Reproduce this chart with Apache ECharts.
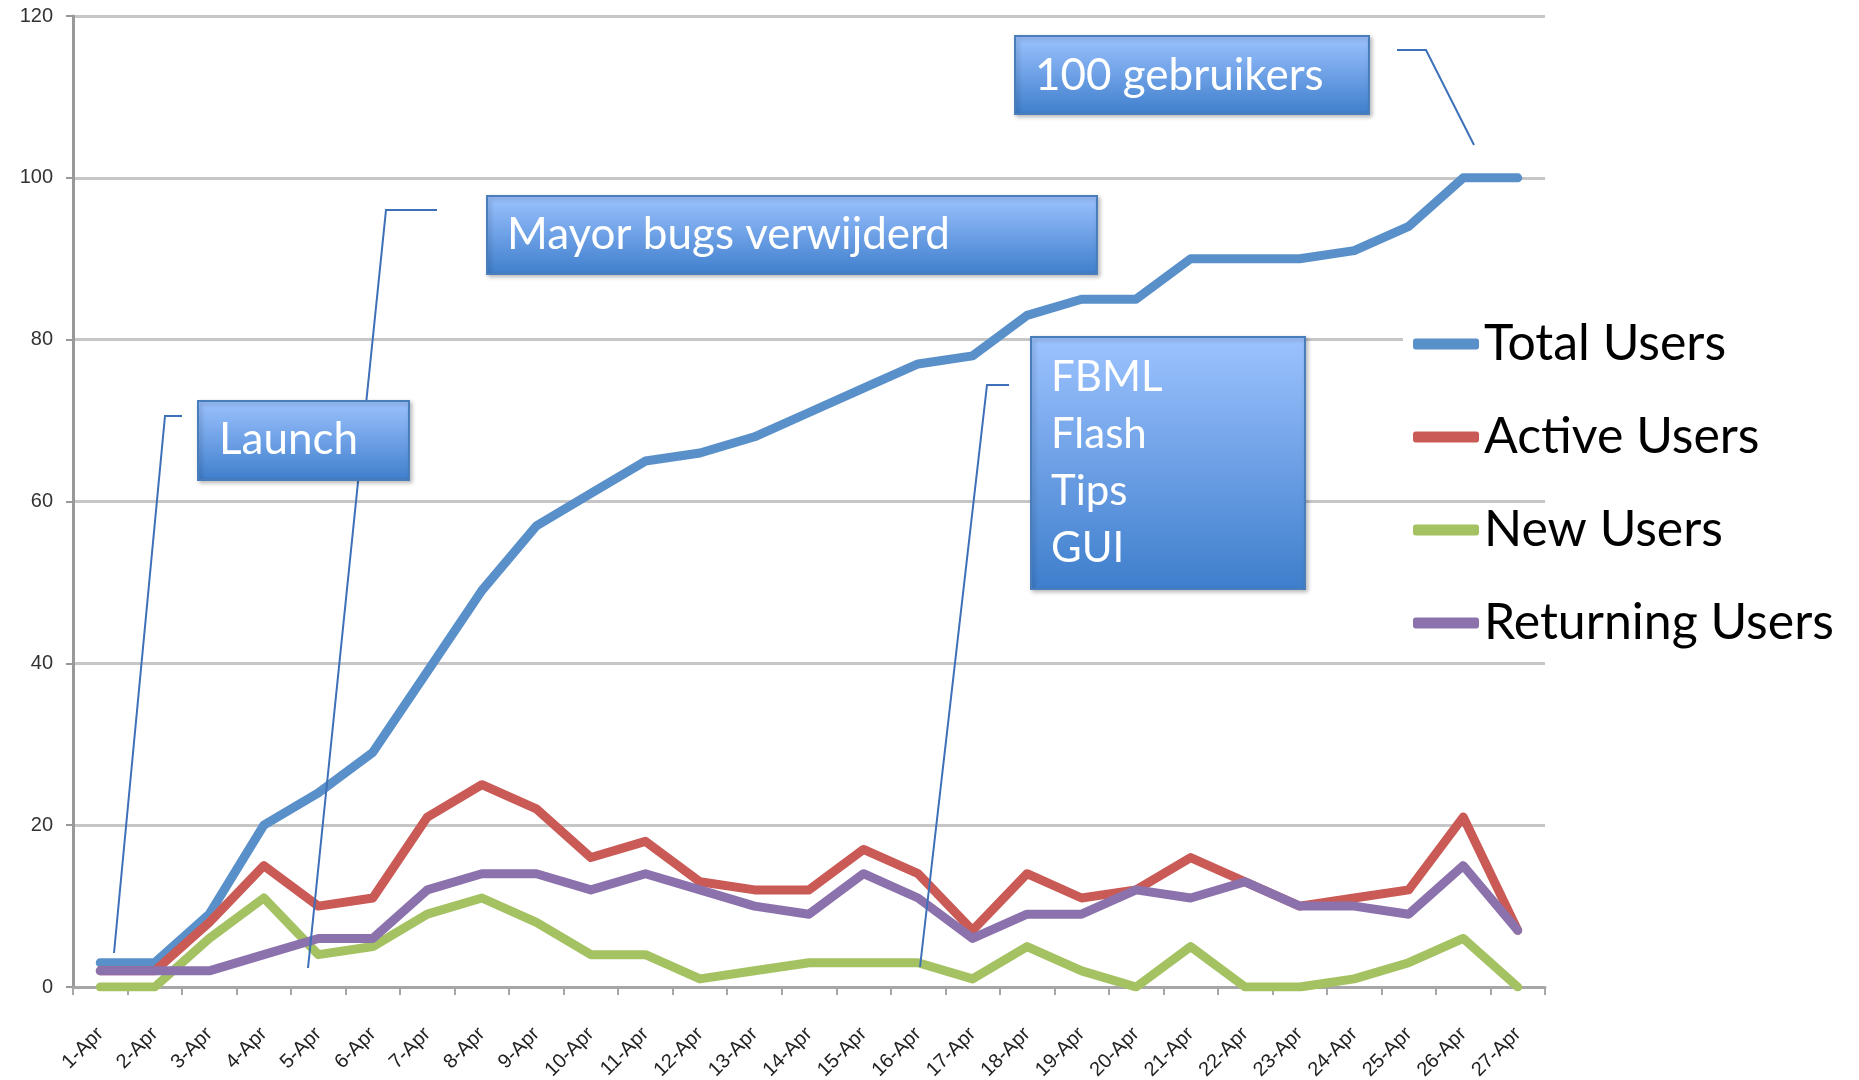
<!DOCTYPE html>
<html>
<head>
<meta charset="utf-8">
<script src="https://cdn.jsdelivr.net/npm/echarts@6/dist/echarts.min.js"></script>
<style>
  html, body { margin: 0; padding: 0; background: #fff; }
  #chart { width: 1859px; height: 1080px; }
</style>
</head>
<body>
<div id="chart"></div>
<script>
// category axis
const days = ['1-Apr','2-Apr','3-Apr','4-Apr','5-Apr','6-Apr','7-Apr','8-Apr','9-Apr','10-Apr',
  '11-Apr','12-Apr','13-Apr','14-Apr','15-Apr','16-Apr','17-Apr','18-Apr','19-Apr','20-Apr',
  '21-Apr','22-Apr','23-Apr','24-Apr','25-Apr','26-Apr','27-Apr'];

// series values
const totalUsers     = [3, 3, 9, 20, 24, 29, 39, 49, 57, 61, 65, 66, 68, 71, 74, 77, 78, 83, 85, 85, 90, 90, 90, 91, 94, 100, 100];
const activeUsers    = [2, 2, 8, 15, 10, 11, 21, 25, 22, 16, 18, 13, 12, 12, 17, 14, 7, 14, 11, 12, 16, 13, 10, 11, 12, 21, 7];
const newUsers       = [0, 0, 6, 11, 4, 5, 9, 11, 8, 4, 4, 1, 2, 3, 3, 3, 1, 5, 2, 0, 5, 0, 0, 1, 3, 6, 0];
const returningUsers = [2, 2, 2, 4, 6, 6, 12, 14, 14, 12, 14, 12, 10, 9, 14, 11, 6, 9, 9, 12, 11, 13, 10, 10, 9, 15, 7];

const seriesNames = ['Total Users', 'Active Users', 'New Users', 'Returning Users'];
const seriesColors = ['#5990C9', '#CA5A55', '#A5C262', '#8C72AD'];

// y axis
const yMin = 0, yMax = 120, yStep = 20;

// callout texts
const notes = ['Launch', 'Mayor bugs verwijderd', '100 gebruikers', ['FBML', 'Flash', 'Tips', 'GUI']];

const chart = echarts.init(document.getElementById('chart'));

const boxFill = () => new echarts.graphic.LinearGradient(0, 0, 0, 1, [
  { offset: 0, color: '#9DC3FF' },
  { offset: 1, color: '#3E7ECC' }
]);

function calloutBox(x, y, w, h, lines, tx, ty, step, size) {
  const children = [{
    type: 'rect', z: 20,
    shape: { x: x, y: y, width: w, height: h },
    style: {
      fill: boxFill(), stroke: '#4A7EBB', lineWidth: 2,
      shadowBlur: 4, shadowOffsetX: 2, shadowOffsetY: 2, shadowColor: 'rgba(0,0,0,0.25)'
    }
  }];
  [].concat(lines).forEach((t, i) => {
    children.push({
      type: 'text', z: 21,
      style: {
        text: t, x: tx, y: ty + i * step,
        fill: '#fff', font: size + 'px Lato',
        align: 'left', verticalAlign: 'middle'
      }
    });
  });
  return { type: 'group', z: 20, children: children };
}

function leader(points) {
  return {
    type: 'polyline', z: 15,
    shape: { points: points },
    style: { stroke: '#3D70B8', lineWidth: 2, fill: null }
  };
}

const option = {
  backgroundColor: '#fff',
  animation: false,
  grid: { left: 73, right: 314, top: 16, bottom: 93, containLabel: false, outerBoundsMode: 'none' },
  legend: {
    data: seriesNames,
    orient: 'vertical',
    left: 1413, top: 316,
    padding: 0,
    itemWidth: 66, itemHeight: 11, itemGap: 37,
    icon: 'roundRect',
    z: 30,
    textStyle: { fontFamily: 'Lato', fontSize: 50, color: '#000', lineHeight: 56 }
  },
  xAxis: {
    type: 'category',
    data: days,
    boundaryGap: true,
    axisLine: { lineStyle: { color: '#A6A6A6', width: 3 } },
    axisTick: { show: true, interval: 0, length: 8, lineStyle: { color: '#A6A6A6', width: 2 } },
    axisLabel: {
      interval: 0, rotate: 45, margin: 44,
      fontFamily: 'Liberation Sans', fontSize: 20, color: '#222'
    },
    splitLine: { show: false }
  },
  yAxis: {
    type: 'value',
    min: yMin, max: yMax, interval: yStep,
    axisLine: { show: true, lineStyle: { color: '#999', width: 3 } },
    axisTick: { show: true, length: 7, lineStyle: { color: '#999', width: 2 } },
    axisLabel: { margin: 20, fontFamily: 'Liberation Sans', fontSize: 20, color: '#333' },
    splitLine: { show: true, lineStyle: { color: '#C6C6C6', width: 3 } }
  },
  series: [totalUsers, activeUsers, newUsers, returningUsers].map((vals, i) => ({
    name: seriesNames[i],
    type: 'line',
    data: vals,
    symbol: 'none',
    smooth: false,
    color: seriesColors[i],
    lineStyle: { width: 9, color: seriesColors[i], cap: 'round', join: 'round' },
    emphasis: { disabled: true }
  })),
  graphic: [
    // white area behind the legend
    { type: 'rect', z: 10, shape: { x: 1403, y: 250, width: 300, height: 249 }, style: { fill: '#fff' } },
    leader([[182, 416], [165, 416], [114, 953]]),
    leader([[437, 210], [386, 210], [308, 968]]),
    leader([[1009, 385], [987, 385], [920, 967]]),
    leader([[1397, 50], [1426, 50], [1474, 145]]),
    calloutBox(198, 401, 211, 79, notes[0], 219, 440, 0, 44),
    calloutBox(487, 196, 610, 78, notes[1], 507, 235, 0, 44),
    calloutBox(1015, 36, 354, 78, notes[2], 1035, 76, 0, 44),
    calloutBox(1031, 337, 274, 252, notes[3], 1051, 377, 57, 42)
  ]
};

chart.setOption(option);
</script>
</body>
</html>
